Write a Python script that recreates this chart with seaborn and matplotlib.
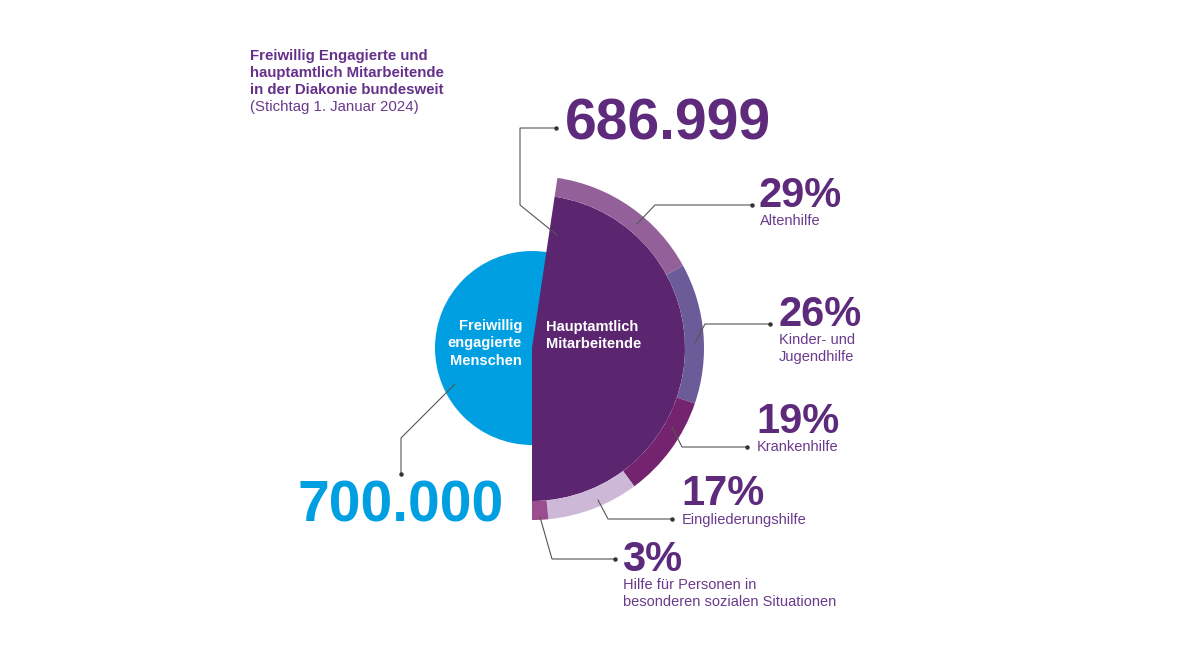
import numpy as np
import matplotlib
matplotlib.use("Agg")
import matplotlib.pyplot as plt
from matplotlib.patches import Wedge, Circle
import seaborn as sns

# ---------------- data ----------------
group_labels = ["Freiwillig\nengagierte\nMenschen", "Hauptamtlich\nMitarbeitende"]
group_totals = [700000, 686999]
area_labels = ["Altenhilfe", "Kinder- und\nJugendhilfe", "Krankenhilfe",
               "Eingliederungshilfe",
               "Hilfe für Personen in\nbesonderen sozialen Situationen"]
area_shares = [29, 26, 19, 17, 3]
title_lines = ["Freiwillig Engagierte und", "hauptamtlich Mitarbeitende",
               "in der Diakonie bundesweit"]
subtitle = "(Stichtag 1. Januar 2024)"

# ---------------- style ----------------
sns.set_theme(style="white")
plt.rcParams["font.family"] = ["Liberation Sans", "DejaVu Sans"]

blue = "#009fe1"
dark_purple = "#5b2570"
num_purple = "#5d2a7c"
lab_purple = "#6b3a8c"
ring_colors = sns.color_palette(["#94609a", "#6b5b98", "#74236f", "#cdb9d7", "#9b4e8e"])
line_col = "#555555"

fig = plt.figure(figsize=(11.84, 6.66), dpi=100)
ax = fig.add_axes([0, 0, 1, 1])
ax.set_xlim(0, 1184)
ax.set_ylim(666, 0)
ax.axis("off")


def lines_text(x, y, text, step, **kw):
    """Draw multi-line text with the first line's baseline at y."""
    for k, line in enumerate(text.split("\n")):
        ax.text(x, y + k * step, line, va="baseline", **kw)


cx, cy = 532, 348
r_blue, r_inner, r_outer = 97, 153, 172
top_angle = 81.5   # screen angle of wedge top edge
bot_angle = -90.0

# blue circle
ax.add_patch(Circle((cx, cy), r_blue, color=blue, lw=0))
# purple wedge (data angles = -screen angles because y is inverted)
ax.add_patch(Wedge((cx, cy), r_inner, -top_angle, -bot_angle, color=dark_purple, lw=0))

# ring segments, clockwise from top
span = top_angle - bot_angle
shares = np.array(area_shares, dtype=float)
bounds = top_angle - np.concatenate([[0], np.cumsum(shares)]) / shares.sum() * span
for i, col in enumerate(ring_colors):
    s_start, s_end = bounds[i], bounds[i + 1]
    ax.add_patch(Wedge((cx, cy), r_outer, -s_start, -s_end, width=r_outer - r_inner,
                       color=col, lw=0))

# inner labels
lines_text(522, 330, group_labels[0], 17.5, color="white", fontsize=10.5,
           fontweight="bold", ha="right")
lines_text(546, 331, group_labels[1], 17.5, color="white", fontsize=10.5,
           fontweight="bold", ha="left")

# big totals
fmt = lambda v: f"{v:,}".replace(",", ".")
ax.text(565, 139, fmt(group_totals[1]), color=num_purple, fontsize=41,
        fontweight="bold", ha="left", va="baseline")
ax.text(297, 522, fmt(group_totals[0]), color=blue, fontsize=41,
        fontweight="bold", ha="left", va="baseline")

# leader lines
leaders = [
    [(557, 235), (520, 205), (520, 128), (556, 128)],
    [(455, 384), (401, 438), (401, 474)],
    [(637, 224), (655, 205), (752, 205)],
    [(695, 343), (705, 324), (770, 324)],
    [(672, 427), (682, 447), (747, 447)],
    [(598, 500), (608, 519), (672, 519)],
    [(540, 517), (552, 559), (615, 559)],
]
for pts in leaders:
    xs, ys = zip(*pts)
    ax.plot(xs, ys, color=line_col, lw=0.8, solid_joinstyle="miter")
    ax.plot(xs[-1], ys[-1], "o", color="#333333", ms=2.2)

# percentage labels
pct_pos = [(759, 207), (778, 326), (756, 433), (681, 505), (622, 571)]
lab_pos = [(760, 225), (779, 344), (757, 451), (682, 524), (623, 589)]
for share, lab, (px, py), (lx, ly) in zip(area_shares, area_labels, pct_pos, lab_pos):
    ax.text(px, py, f"{share}%", color=num_purple, fontsize=30, fontweight="bold",
            ha="left", va="baseline")
    lines_text(lx, ly, lab, 17.5, color=lab_purple, fontsize=10.5, ha="left")

# title
for k, line in enumerate(title_lines):
    ax.text(250, 60 + k * 17, line, color="#65308a", fontsize=10.8, fontweight="bold",
            ha="left", va="baseline")
ax.text(250, 60 + 3 * 17, subtitle, color=lab_purple, fontsize=10.8,
        ha="left", va="baseline")

fig.savefig("out.png", dpi=100, facecolor="white")
